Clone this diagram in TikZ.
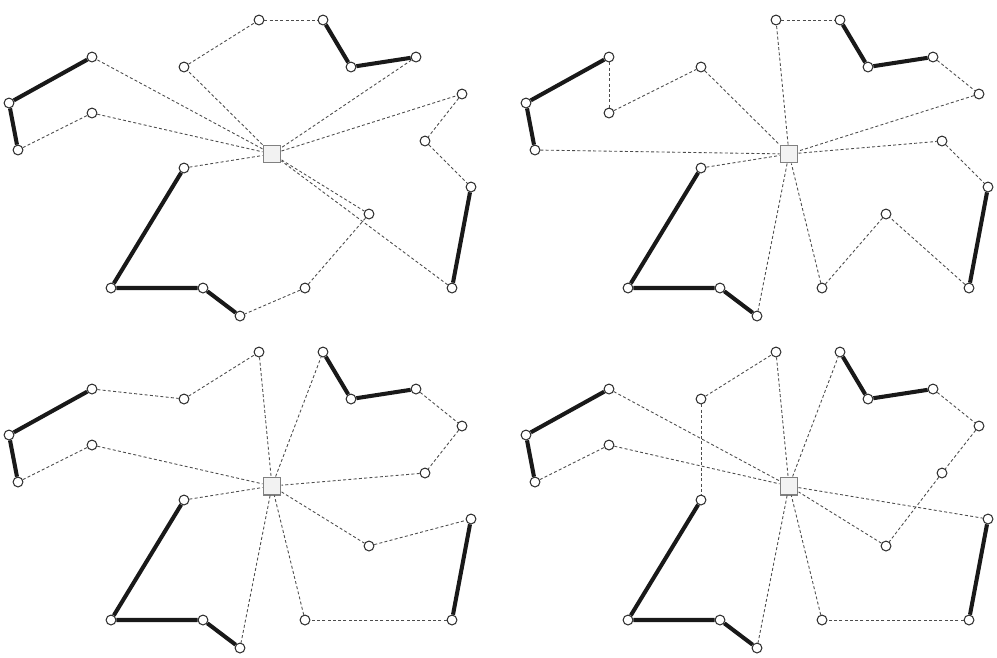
\documentclass[tikz,border=0pt]{standalone}
\usepackage{tikz}
\usetikzlibrary{positioning}
\tikzset{customer/.style={circle, draw=black!80, fill=white, line width=0.6pt,
                          minimum size=5.6pt, inner sep=0pt},
         depot/.style={rectangle, draw=black!50, fill=black!5, line width=0.6pt,
                       minimum size=10.2pt, inner sep=0pt},
         fixed/.style={line width=2.3pt, black!90},
         route/.style={line width=0.5pt, black!70, dash pattern=on 1.7pt off 1.3pt}
        }
\newcommand{\placecustomers}{%
  \node[customer] (a) at (92,57) {};
  \node[customer] (b) at (9,103) {};
  \node[customer] (c) at (18,150) {};
  \node[customer] (d) at (92,113) {};
  \node[customer] (e) at (184,67) {};
  \node[customer] (f) at (259,20) {};
  \node[customer] (g) at (323,20) {};
  \node[customer] (h) at (351,67) {};
  \node[customer] (i) at (416,57) {};
  \node[customer] (j) at (462,94) {};
  \node[customer] (k) at (425,141) {};
  \node[customer] (l) at (471,187) {};
  \node[customer] (m) at (452,288) {};
  \node[customer] (n) at (369,214) {};
  \node[customer] (o) at (305,288) {};
  \node[customer] (p) at (240,316) {};
  \node[customer] (q) at (203,288) {};
  \node[customer] (r) at (111,288) {};
  \node[customer] (s) at (184,168) {};
  \node[depot] (dep) at (272,154) {};
  \draw[fixed] (a) -- (b) -- (c);
  \draw[fixed] (g) -- (h) -- (i);
  \draw[fixed] (l) -- (m);
  \draw[fixed] (s) -- (r) -- (q) -- (p);
}

\begin{document}
\begin{tikzpicture}[x=0.2mm, y=-0.2mm]
\useasboundingbox (0,0) rectangle (997,657);

%first panel
\begin{scope}[name prefix=tl-]
\placecustomers
\foreach \u/\v in {dep/a, c/d, d/dep, dep/e, e/f, f/g, i/dep, dep/j, j/k, k/l,
                   m/dep, dep/n, n/o, o/p, s/dep}
  \draw[route] (\u) -- (\v);
\end{scope}

%second panel
\begin{scope}[shift={(517,0)}, name prefix=tr-]
\placecustomers
\foreach \u/\v in {a/d, d/e, e/dep, c/dep, dep/f, f/g, i/j, j/dep, dep/k, k/l,
                   m/n, n/o, o/dep, dep/p, s/dep}
  \draw[route] (\u) -- (\v);
\end{scope}

%third panel
\begin{scope}[shift={(0,332)}, name prefix=bl-]
\placecustomers
\foreach \u/\v in {a/e, e/f, f/dep, dep/g, i/j, j/k, k/dep, c/d, d/dep, s/dep,
                   dep/p, dep/n, n/l, m/o, o/dep}
  \draw[route] (\u) -- (\v);
\end{scope}

%fourth panel
\begin{scope}[shift={(517,332)}, name prefix=br-]
\placecustomers
\foreach \u/\v in {a/dep, c/d, d/dep, e/s, e/f, f/dep, dep/g, i/j, j/k, k/n,
                   n/dep, dep/l, m/o, o/dep, dep/p}
  \draw[route] (\u) -- (\v);
\end{scope}

\end{tikzpicture}
\end{document}
